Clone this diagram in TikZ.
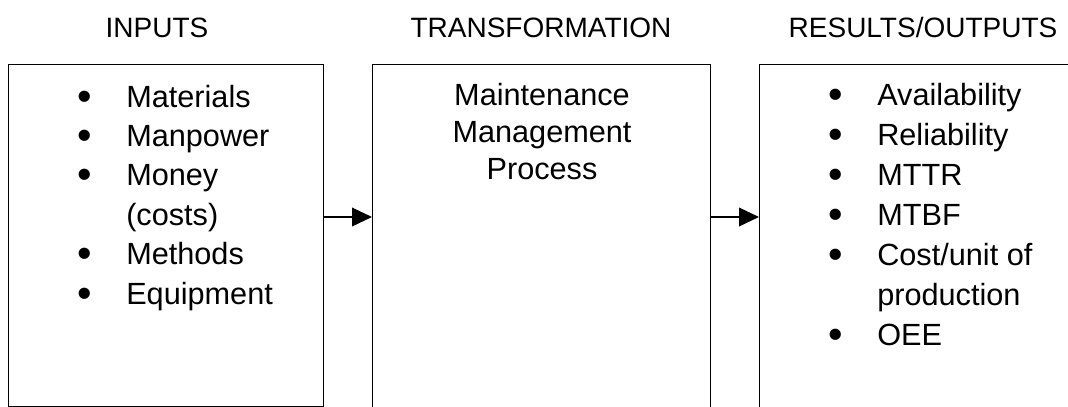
\documentclass[tikz,border=0pt]{standalone}
\usepackage{fontspec}
\usepackage{graphicx}
\setmainfont{Liberation Sans}
\usetikzlibrary{positioning, arrows.meta}
\tikzset{
    stage/.style={rectangle, draw=black, line width=1.1pt, anchor=north west, inner sep=0pt},
    heading/.style={font=\fontsize{21}{26}\selectfont, anchor=base, inner sep=0pt},
    itemlist/.style={anchor=base west, inner sep=0pt},
    flow/.style={line width=1.1pt, -{Triangle[length=15pt, width=14pt]}},
}
\newcommand{\bul}{\llap{\raisebox{-0.1em}{\scalebox{1.35}{\textbullet}}\hspace{25.5pt}}}

\begin{document}
\begin{tikzpicture}[x=0.75pt, y=-0.75pt]
    \useasboundingbox (0,0) rectangle (1068,407);
    \clip (0,0) rectangle (1068,407);

    % column headings
    \node[heading] (inhead)   at (157,37) {INPUTS};
    \node[heading] (prochead) at (541,37) {TRANSFORMATION};
    \node[heading] (outhead)  at (923,37) {RESULTS/OUTPUTS};

    % the three boxes (middle and right run off the page)
    \node[stage, minimum width=236.25pt, minimum height=256.5pt] (inbox)   at (8,64)   {};
    \node[stage, minimum width=253.5pt,  minimum height=300pt]   (procbox) at (372,64) {};
    \node[stage, minimum width=300pt,    minimum height=300pt]   (outbox)  at (759,64) {};

    % box contents
    \node[itemlist, font=\fontsize{23}{29.6}\selectfont] (inlist) at (126,107) {%
        \begin{tabular}[t]{@{}l@{}}
        \bul Materials\\
        \bul Manpower\\
        \bul Money\\
        (costs)\\
        \bul Methods\\
        \bul Equipment
        \end{tabular}};
    \node[anchor=base, inner sep=0pt, font=\fontsize{23}{27.75}\selectfont] (proctext) at (542,105) {%
        \begin{tabular}[t]{@{}c@{}}
        Maintenance\\
        Management\\
        Process
        \end{tabular}};
    \node[itemlist, font=\fontsize{23}{30}\selectfont] (outlist) at (877,105) {%
        \begin{tabular}[t]{@{}l@{}}
        \bul Availability\\
        \bul Reliability\\
        \bul MTTR\\
        \bul MTBF\\
        \bul Cost/unit of\\
        production\\
        \bul OEE
        \end{tabular}};

    % flow arrows
    \coordinate (flowy) at (0,217);
    \draw[flow] (inbox.east |- flowy) -- (procbox.west |- flowy);
    \draw[flow] (procbox.east |- flowy) -- (outbox.west |- flowy);
\end{tikzpicture}
\end{document}
